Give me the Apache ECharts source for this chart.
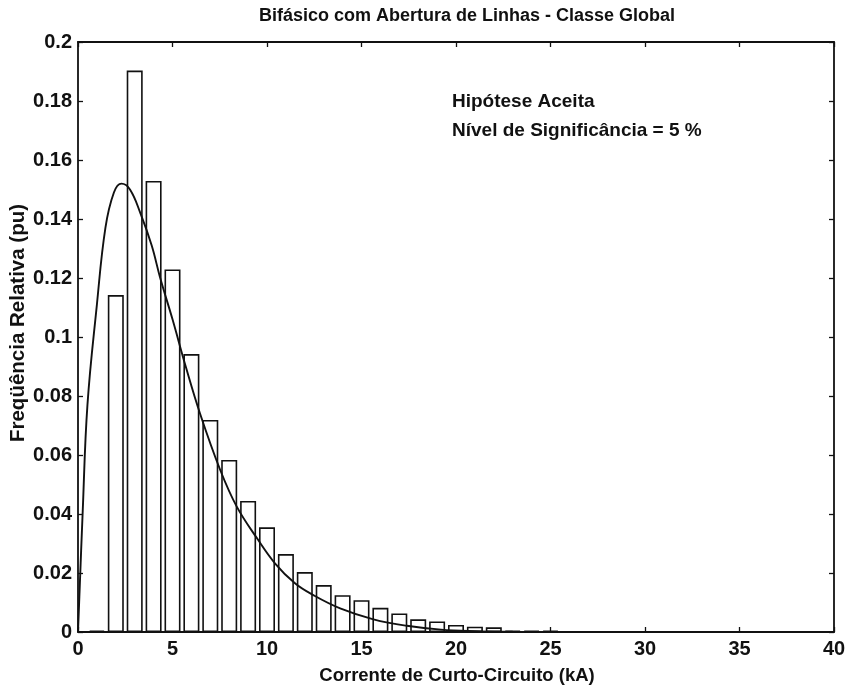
<!DOCTYPE html>
<html>
<head>
<meta charset="utf-8">
<title>Bifásico com Abertura de Linhas - Classe Global</title>
<script src="https://cdn.jsdelivr.net/npm/echarts@6/dist/echarts.min.js"></script>
<style>
  html, body { margin: 0; padding: 0; background: #fff; }
  #chart { width: 851px; height: 689px; }
</style>
</head>
<body>
<div id="chart"></div>
<script>
// Histogram bins (kA) and their relative frequency (pu)
const binCenters = [1, 2, 3, 4, 5, 6, 7, 8, 9, 10, 11, 12, 13, 14, 15, 16, 17, 18, 19, 20, 21, 22, 23, 24, 25];
const binFreq = [0.0005, 0.1142, 0.1903, 0.1529, 0.1229, 0.0942, 0.0719, 0.0583, 0.0444, 0.0355,
                 0.0264, 0.0203, 0.0159, 0.0125, 0.0108, 0.0082, 0.0063, 0.0043, 0.0036, 0.0024,
                 0.0018, 0.0016, 0.0004, 0.0004, 0.0004];

// Fitted density curve
const curveX = [0, 0.25, 0.5, 1.0, 1.45, 1.9, 2.3, 2.75, 3.3, 3.9, 4.35, 5.0, 5.7, 6.46, 7.52, 8.4,
                9.5, 10.42, 11.48, 12.45, 13.87, 15.63, 17.4, 19.2, 21, 23, 25];
const curveY = [0, 0.041, 0.077, 0.111, 0.137, 0.149, 0.152, 0.150, 0.142, 0.131, 0.120, 0.106, 0.090, 0.074,
                0.055, 0.0425, 0.0315, 0.0233, 0.0165, 0.0125, 0.0080, 0.0043, 0.0021, 0.0008, 0.0003, 0.0001, 0];

// Axis ticks
const xTicks = [0, 5, 10, 15, 20, 25, 30, 35, 40];
const yTicks = [0, 0.02, 0.04, 0.06, 0.08, 0.1, 0.12, 0.14, 0.16, 0.18, 0.2];

const titleText = 'Bifásico com Abertura de Linhas - Classe Global';
const xName = 'Corrente de Curto-Circuito (kA)';
const yName = 'Freqüência Relativa (pu)';
const noteLines = ['Hipótese Aceita', 'Nível de Significância = 5 %'];

const FONT = '"Liberation Sans", Arial, sans-serif';
const INK = '#111';

const chart = echarts.init(document.getElementById('chart'), null, { renderer: 'canvas' });

// Shared frame style: MATLAB-like box with inward ticks on all four sides
const frameAxis = () => ({
  axisLine: { show: true, onZero: false, lineStyle: { color: INK, width: 1.8 } },
  axisTick: { show: true, inside: true, length: 5, lineStyle: { color: INK, width: 1.3 } },
  splitLine: { show: false }
});

const option = {
  backgroundColor: '#fff',
  animation: false,
  grid: { left: 78, right: 17, top: 42, bottom: 57 },
  xAxis: [
    Object.assign({
      type: 'value', min: xTicks[0], max: xTicks[xTicks.length - 1], interval: 5,
      position: 'bottom',
      axisLabel: { fontFamily: FONT, fontSize: 20, fontWeight: 'bold', color: INK, margin: 7 }
    }, frameAxis()),
    Object.assign({
      type: 'value', min: xTicks[0], max: xTicks[xTicks.length - 1], interval: 5,
      position: 'top', axisLabel: { show: false }
    }, frameAxis())
  ],
  yAxis: [
    Object.assign({
      type: 'value', min: yTicks[0], max: yTicks[yTicks.length - 1], interval: 0.02,
      position: 'left',
      axisLabel: { fontFamily: FONT, fontSize: 20, fontWeight: 'bold', color: INK, margin: 6,
                   formatter: v => String(+v.toFixed(2)) }
    }, frameAxis()),
    Object.assign({
      type: 'value', min: yTicks[0], max: yTicks[yTicks.length - 1], interval: 0.02,
      position: 'right', axisLabel: { show: false }
    }, frameAxis())
  ],
  graphic: [
    {
      type: 'text', x: 467, y: 16,
      style: { text: titleText, font: 'bold 18px ' + FONT, fill: INK, align: 'center', verticalAlign: 'middle' }
    },
    {
      type: 'text', x: 457, y: 676,
      style: { text: xName, font: 'bold 18.5px ' + FONT, fill: INK, align: 'center', verticalAlign: 'middle' }
    },
    {
      type: 'text', x: 18, y: 323, rotation: Math.PI / 2,
      style: { text: yName, font: 'bold 20.5px ' + FONT, fill: INK, align: 'center', verticalAlign: 'middle' }
    },
    {
      type: 'text', x: 452, y: 102,
      style: { text: noteLines[0], font: 'bold 19px ' + FONT, fill: INK, verticalAlign: 'middle' }
    },
    {
      type: 'text', x: 452, y: 131,
      style: { text: noteLines[1], font: 'bold 19px ' + FONT, fill: INK, verticalAlign: 'middle' }
    }
  ],
  series: [
    {
      type: 'bar',
      xAxisIndex: 0, yAxisIndex: 0,
      barWidth: 16,
      data: binCenters.map((x, i) => [x, binFreq[i]]),
      itemStyle: { color: '#fff', borderColor: INK, borderWidth: 1.6 },
      z: 2
    },
    {
      type: 'line',
      xAxisIndex: 0, yAxisIndex: 0,
      smooth: 0.4,
      showSymbol: false,
      data: curveX.map((x, i) => [x, curveY[i]]),
      lineStyle: { color: INK, width: 1.9 },
      z: 3
    }
  ]
};

chart.setOption(option);
</script>
</body>
</html>
